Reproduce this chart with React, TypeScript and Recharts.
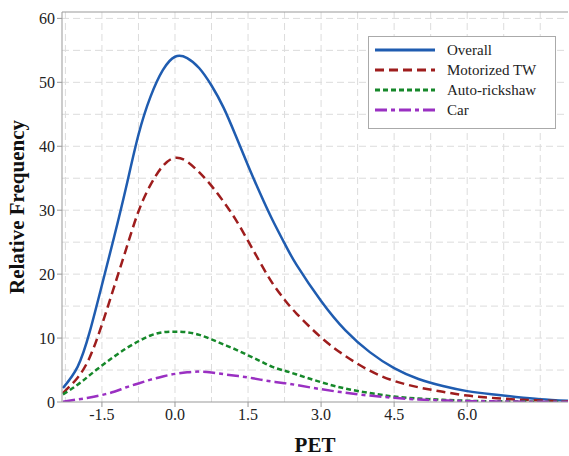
import { LineChart, Line, XAxis, YAxis, CartesianGrid, ReferenceLine } from 'recharts'

const pet = [-2.3, -2.0, -1.75, -1.5, -1.25, -1.0, -0.75, -0.5, -0.25, 0, 0.25, 0.5, 0.75, 1.0, 1.25, 1.5, 1.75, 2.0, 2.25, 2.5, 3.0, 3.5, 4.0, 4.5, 5.0, 5.5, 6.0, 6.5, 7.0, 7.5, 8.07]
const overall = [2.2, 5.5, 11.0, 18.3, 25.8, 33.7, 41.8, 47.8, 51.9, 54.0, 53.8, 52.2, 49.5, 46.0, 41.6, 37.0, 32.6, 28.5, 24.8, 21.4, 15.8, 11.2, 7.8, 5.3, 3.6, 2.5, 1.7, 1.2, 0.8, 0.45, 0.2]
const motorizedTW = [1.4, 3.8, 7.0, 12.1, 18.0, 24.0, 29.8, 34.0, 36.9, 38.2, 37.6, 35.9, 33.8, 31.3, 28.5, 25.2, 21.8, 18.6, 16.0, 13.8, 10.1, 7.2, 4.9, 3.3, 2.3, 1.6, 1.0, 0.65, 0.4, 0.25, 0.1]
const autoRickshaw = [1.2, 2.7, 4.2, 5.7, 7.1, 8.4, 9.5, 10.4, 10.9, 11.0, 10.9, 10.5, 9.8, 9.0, 8.2, 7.3, 6.4, 5.5, 4.9, 4.3, 3.1, 2.1, 1.4, 0.85, 0.55, 0.35, 0.2, 0.12, 0.08, 0.05, 0.02]
const car = [0.05, 0.4, 0.7, 1.1, 1.6, 2.3, 2.9, 3.5, 4.0, 4.4, 4.65, 4.75, 4.6, 4.35, 4.1, 3.85, 3.5, 3.2, 2.95, 2.65, 2.0, 1.45, 1.0, 0.65, 0.4, 0.25, 0.15, 0.1, 0.06, 0.04, 0.02]

const xTicks = [-1.5, 0, 1.5, 3, 4.5, 6]
const yTicks = [0, 10, 20, 30, 40, 50, 60]
const xGrid = [-2.25, -1.5, -0.75, 0, 0.75, 1.5, 2.25, 3, 3.75, 4.5, 5.25, 6, 6.75, 7.5]
const yGrid = [5, 10, 15, 20, 25, 30, 35, 40, 45, 50, 55, 60]

const SERIES = [
  { key: 'overall', name: 'Overall', color: '#1f5cb0', dash: undefined },
  { key: 'motorized', name: 'Motorized TW', color: '#9e1d1d', dash: '9 5' },
  { key: 'auto', name: 'Auto-rickshaw', color: '#16882a', dash: '5 3' },
  { key: 'car', name: 'Car', color: '#9a30c2', dash: '12 4 4 4' },
]

const data = pet.map((x, i) => ({
  x,
  overall: overall[i],
  motorized: motorizedTW[i],
  auto: autoRickshaw[i],
  car: car[i],
}))

const FONT = '"Liberation Serif", "Times New Roman", serif'
const TICK = { fontSize: 16, fill: '#222', fontFamily: FONT }

// legend drawn as an overlay so it doesn't take space from the plot
function LegendBox() {
  return (
    <div style={{
      position: 'absolute', left: 368, top: 36, background: 'white', border: '1px solid #aaa',
      width: 188, height: 93, boxSizing: 'border-box', paddingTop: 3,
      fontFamily: FONT, fontSize: 15, color: '#222',
    }}>
      {SERIES.map(s => (
        <div key={s.key} style={{ display: 'flex', alignItems: 'center', height: 20 }}>
          <svg width={74} height={20}>
            <line x1={6} y1={10} x2={66} y2={10} stroke={s.color} strokeWidth={3} strokeDasharray={s.dash} />
          </svg>
          <span style={{ marginLeft: 4 }}>{s.name}</span>
        </div>
      ))}
    </div>
  )
}

export default function App() {
  return (
    <div style={{ position: 'absolute', left: 0, top: 0, width: 569, height: 456, background: 'white' }}>
      <LineChart width={569} height={456} data={data} margin={{ top: 12, right: 1, bottom: 0, left: 0 }}>
        <CartesianGrid stroke="#dcdcdc" strokeDasharray="7 4" verticalValues={xGrid} horizontalValues={yGrid} />
        <XAxis
          dataKey="x" type="number" domain={[-2.32, 8.07]} ticks={xTicks} height={54}
          tickFormatter={(v: number) => v.toFixed(1)} tick={TICK} tickSize={5}
          stroke="#999" allowDataOverflow
          label={{ value: 'PET', position: 'insideBottom', offset: 4, fontSize: 21, fontWeight: 'bold', fill: '#111', fontFamily: FONT }}
        />
        <YAxis
          type="number" domain={[0, 61]} ticks={yTicks} width={62} tick={TICK} tickSize={5}
          stroke="#999" allowDataOverflow
          label={{ value: 'Relative Frequency', angle: -90, position: 'insideLeft', offset: 17, fontSize: 21, fontWeight: 'bold', fill: '#111', fontFamily: FONT, style: { textAnchor: 'middle' } }}
        />
        <ReferenceLine y={61} stroke="#999" />
        {SERIES.map(s => (
          <Line
            key={s.key} type="natural" dataKey={s.key} name={s.name} stroke={s.color}
            strokeWidth={2.5} strokeDasharray={s.dash} dot={false} isAnimationActive={false}
          />
        ))}
      </LineChart>
      <LegendBox />
    </div>
  )
}
